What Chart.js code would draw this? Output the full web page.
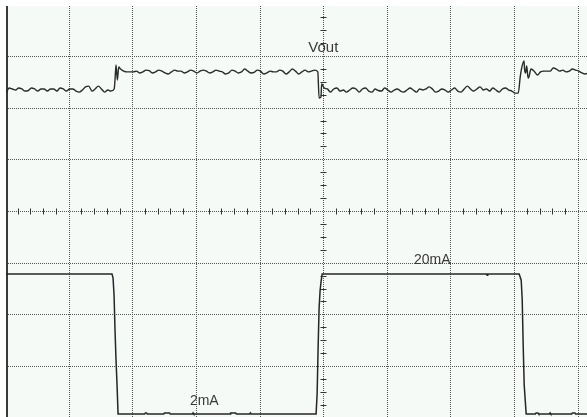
<!DOCTYPE html>
<html>
<head>
<meta charset="utf-8">
<script src="https://cdn.jsdelivr.net/npm/chart.js@4.4.1/dist/chart.umd.min.js"></script>
<style>
  html, body { margin: 0; padding: 0; background: #ffffff; overflow: hidden; }
  canvas { display: block; }
</style>
</head>
<body>
<canvas id="scope" width="587" height="417"></canvas>
<script>
// Time base: 100 us per division, Vout channel 20 mV per division.
const SAMPLE_US = 5;

// Vout samples (mV), one every SAMPLE_US microseconds
const vout = [
  46.0, 48.0, 47.6, 47.2, 48.0, 47.6, 46.8, 47.0, 48.0, 47.6,
  46.8, 47.6, 47.6, 46.8, 47.6, 47.6, 46.8, 48.0, 47.6, 46.8,
  47.6, 47.6, 46.8, 46.4, 47.2, 48.4, 48.7, 46.8, 47.6, 48.7,
  47.6, 46.4, 47.2, 46.8, 47.6, 51.1, 55.3, 54.5, 54.2, 54.2,
  54.2, 54.5, 53.8, 54.2, 54.9, 54.7, 53.8, 54.2, 54.9, 54.5,
  53.8, 53.4, 54.2, 54.9, 54.5, 54.5, 53.8, 54.2, 54.9, 54.5,
  53.8, 54.5, 54.9, 54.5, 53.8, 54.2, 54.9, 54.5, 54.2, 53.4,
  53.8, 54.9, 54.5, 53.8, 54.2, 55.3, 54.5, 53.8, 54.0, 54.9,
  54.5, 53.4, 53.8, 54.5, 54.2, 54.2, 54.9, 54.5, 53.4, 54.2,
  55.3, 54.5, 53.4, 54.2, 54.9, 54.2, 54.5, 54.9, 54.2, 44.5,
  48.0, 47.6, 46.4, 47.6, 48.0, 46.8, 47.2, 46.4, 47.2, 48.0,
  47.6, 46.4, 47.6, 48.0, 46.8, 46.4, 47.6, 47.0, 46.8, 48.0,
  47.2, 46.4, 47.2, 47.6, 46.8, 46.4, 47.2, 48.0, 47.2, 46.4,
  47.6, 47.2, 47.6, 48.4, 47.6, 46.4, 46.8, 47.6, 47.2, 46.4,
  47.2, 48.0, 46.8, 46.4, 47.6, 48.7, 47.6, 46.8, 47.6, 48.4,
  47.2, 47.6, 46.8, 48.0, 47.2, 46.4, 47.6, 48.0, 47.2, 46.8,
  46.0, 46.0, 55.3, 55.0, 52.6, 55.3, 54.5, 53.0, 54.2, 54.5,
  54.5, 54.5, 55.7, 55.3, 54.5, 54.9, 54.2, 54.5, 55.3, 54.9,
  54.5, 53.8, 53.4, 53.8
];

// Extra Vout points captured on the load-step transients
const voutEdgeT = [171.3, 172.9, 177.2, 181.9, 492.0, 496.0, 808.0, 814.0, 816.6, 818.2, 821.0];
const voutEdgeV = [51.1, 56.9, 56.1, 55.0, 44.1, 49.5, 52.2, 58.4, 53.8, 56.5, 51.8];

// Load current (mA) breakpoints
const tLoad = [
  0, 166.6, 168.2, 169.8, 171.3, 172.9, 174.5, 176.1,
  218, 219, 221, 222, 248, 249, 257, 258, 293, 294, 295,
  352, 353, 361, 362, 383, 384, 385,
  487.3, 488.9, 490.5, 492.0, 493.6, 495.2, 496.8,
  755, 756, 757,
  806.4, 809.6, 811.2, 812.7, 814.3, 815.9, 817.4,
  832, 833, 836, 837, 854, 855, 856, 889, 890, 894, 895, 913
];
const loadMA = [
  20, 20, 19.5, 17.3, 12.8, 8.9, 5.7, 2,
  2, 2.13, 2.13, 2, 2, 2.13, 2.13, 2, 2, 2.13, 2,
  2, 2.13, 2.13, 2, 2, 2.13, 2,
  2, 4.57, 10.6, 15.6, 17.9, 19.1, 20,
  20, 19.85, 20,
  20, 19.2, 16.7, 10.9, 5.7, 3.8, 2,
  2, 2.13, 2.13, 2, 2, 2.13, 2, 2, 2.13, 2.13, 2, 2
];

// Level annotations: [text, time (us), value, axis, pixel lift, font size]
const annotations = [
  ['Vout', 475, 62, 'y', 0, '15px'],
  ['20mA', 641, 20, 'yI', 10, '14px'],
  ['2mA', 289, 2, 'yI', 9, '14px']
];

const voutPoints = vout.map((v, i) => ({ x: i * SAMPLE_US, y: v }))
  .concat(voutEdgeT.map((t, i) => ({ x: t, y: voutEdgeV[i] })))
  .sort((a, b) => a.x - b.x);
const loadPoints = tLoad.map((t, i) => ({ x: t, y: loadMA[i] }));

const screenPlugin = {
  id: 'screen',
  beforeDraw(chart) {
    const { ctx, chartArea: a } = chart;
    ctx.save();
    ctx.fillStyle = '#ffffff';
    ctx.fillRect(0, 0, chart.width, chart.height);
    ctx.fillStyle = '#f5faf7';
    ctx.fillRect(a.left, a.top, a.right - a.left, a.bottom - a.top);
    ctx.restore();
  },
  beforeDatasetsDraw(chart) {
    const { ctx, chartArea: a, scales } = chart;
    const xs = scales.x, ys = scales.y;
    ctx.save();
    ctx.beginPath();
    ctx.rect(a.left, a.top, a.right - a.left, a.bottom - a.top);
    ctx.clip();

    // dotted graticule
    ctx.strokeStyle = '#555555';
    ctx.lineWidth = 1;
    ctx.setLineDash([1, 1]);
    for (let t = 100; t <= 1000; t += 100) {
      const px = Math.round(xs.getPixelForValue(t)) - 0.5;
      ctx.beginPath(); ctx.moveTo(px, a.top); ctx.lineTo(px, a.bottom); ctx.stroke();
    }
    for (let mv = -60; mv <= 60; mv += 20) {
      const py = Math.round(ys.getPixelForValue(mv)) - 0.5;
      ctx.beginPath(); ctx.moveTo(a.left, py); ctx.lineTo(a.right, py); ctx.stroke();
    }

    // minor ticks on the centre axes
    ctx.setLineDash([]);
    ctx.strokeStyle = '#333333';
    const cy = Math.round(ys.getPixelForValue(0)) - 0.5;
    const cx = Math.round(xs.getPixelForValue(500)) - 0.5;
    for (let t = 0; t <= 1000; t += 20) {
      if (t % 100 === 0) continue;
      const px = Math.round(xs.getPixelForValue(t)) - 0.5;
      ctx.beginPath(); ctx.moveTo(px, cy - 3); ctx.lineTo(px, cy + 3); ctx.stroke();
    }
    for (let mv = -80; mv <= 80; mv += 5) {
      if (mv % 20 === 0) continue;
      const py = Math.round(ys.getPixelForValue(mv)) - 0.5;
      ctx.beginPath(); ctx.moveTo(cx - 3, py); ctx.lineTo(cx + 3, py); ctx.stroke();
    }

    // left edge of the screen
    ctx.fillStyle = '#3a3a3a';
    ctx.fillRect(a.left, a.top, 2, a.bottom - a.top);
    ctx.restore();
  },
  afterDatasetsDraw(chart) {
    const { ctx, scales } = chart;
    ctx.save();
    ctx.fillStyle = '#3a3a3a';
    ctx.textBaseline = 'alphabetic';
    ctx.textAlign = 'left';
    annotations.forEach(([text, t, val, axis, lift, size]) => {
      ctx.font = size + ' "Liberation Sans", Arial, sans-serif';
      const px = scales.x.getPixelForValue(t);
      const py = scales[axis].getPixelForValue(val) - lift;
      ctx.fillText(text, px, py);
    });
    ctx.restore();
  }
};

new Chart(document.getElementById('scope'), {
  type: 'line',
  data: {
    datasets: [
      {
        label: 'Vout',
        data: voutPoints,
        yAxisID: 'y',
        borderColor: '#2a2a2a',
        borderWidth: 1.4,
        pointRadius: 0,
        cubicInterpolationMode: 'monotone'
      },
      {
        label: 'Iload',
        data: loadPoints,
        yAxisID: 'yI',
        borderColor: '#262626',
        borderWidth: 1.5,
        pointRadius: 0,
        tension: 0
      }
    ]
  },
  options: {
    responsive: false,
    devicePixelRatio: 1,
    animation: false,
    layout: { padding: { left: 6, top: 6, right: 0, bottom: 0 } },
    plugins: { legend: { display: false }, tooltip: { enabled: false } },
    scales: {
      x: { type: 'linear', min: 0, max: 913, display: false },
      y: { type: 'linear', min: -79.3, max: 79.7, display: false },
      yI: { type: 'linear', min: 1.6, max: 54.5, display: false }
    }
  },
  plugins: [screenPlugin]
});
</script>
</body>
</html>
